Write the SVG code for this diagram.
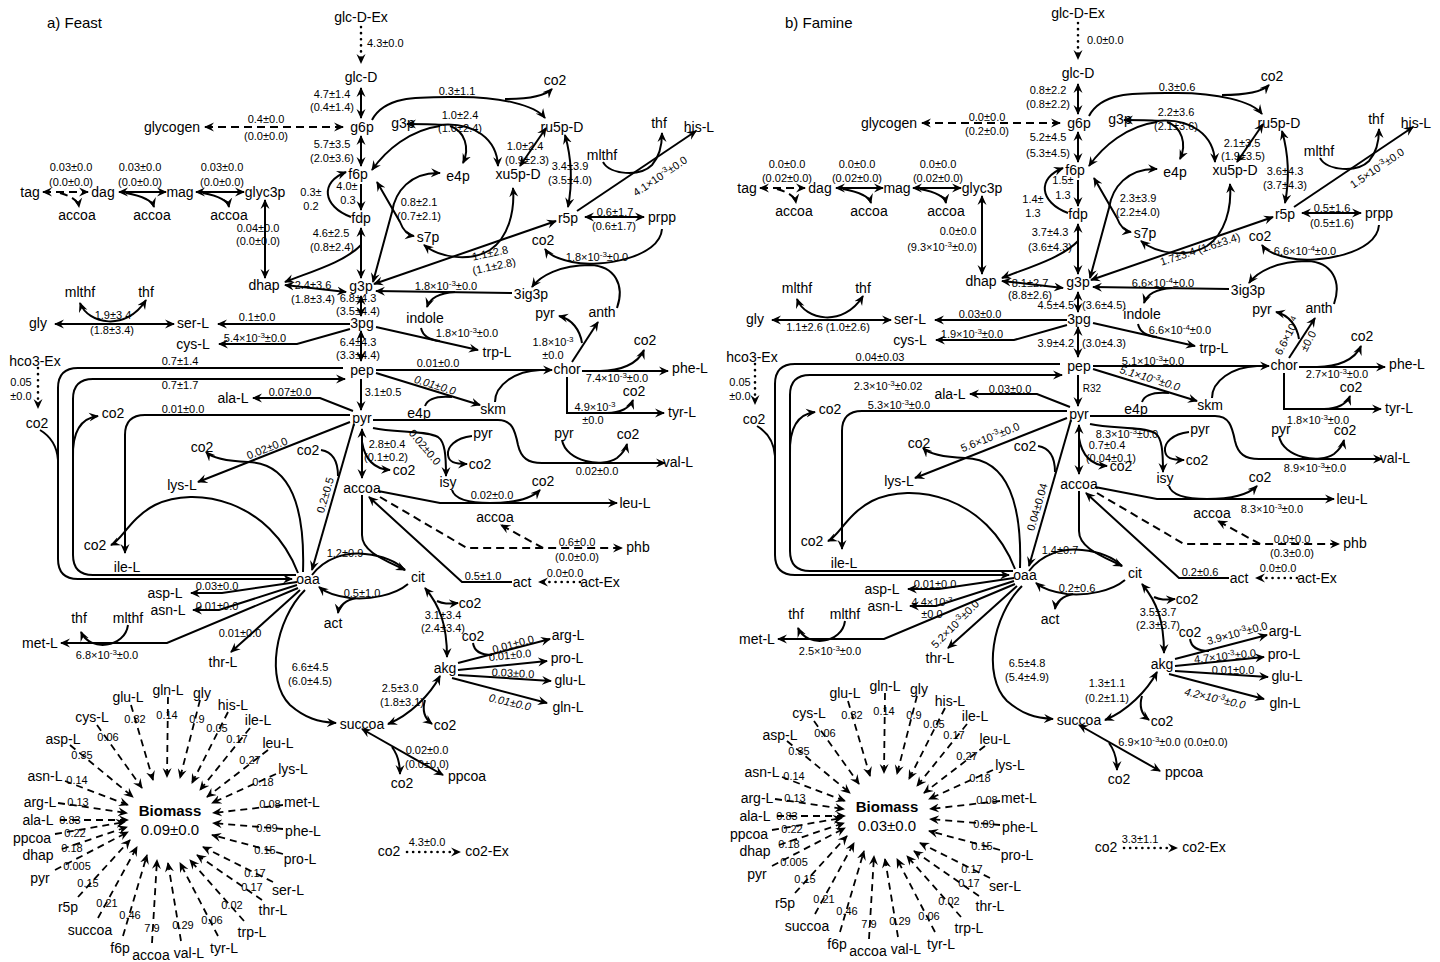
<svg xmlns="http://www.w3.org/2000/svg" width="1440" height="962" viewBox="0 0 1440 962">
<defs>
<style>
text{font-family:"Liberation Sans",Arial,sans-serif;fill:#000}
.n{font-size:14px;text-anchor:middle}
.l{font-size:11px;text-anchor:middle}
.ls{font-size:11px;text-anchor:start}
.le{font-size:11px;text-anchor:end}
.i{font-style:italic}
.sp{font-size:8px}
.e{fill:none;stroke:#000;stroke-width:2}
.d{stroke-dasharray:8 5}
.o{stroke-dasharray:0.1 6;stroke-linecap:round;stroke-width:2.6}
.bm{stroke-dasharray:7 5;stroke-width:1.8}
.a{marker-end:url(#ah)}
.b{marker-start:url(#ah);marker-end:url(#ah)}
</style>
<marker id="ah" viewBox="0 0 10 10" refX="9" refY="5" markerWidth="10" markerHeight="10" markerUnits="userSpaceOnUse" orient="auto-start-reverse"><path d="M0,0.5 L10,5 L0,9.5 L3.5,5 z" fill="#000"/></marker>
</defs>
<rect width="1440" height="962" fill="#fff"/>
<text x="47" y="28" style="font-size:15px">a) Feast</text>
<text x="785" y="28" style="font-size:15px">b) Famine</text>

<g id="graphA">
<g id="connectors-a">
<path class="e d b" d="M205,127 H343"/>
<path class="e o a" d="M361,27 V63"/>
<path class="e b" d="M361,88 V118"/>
<path class="e b" d="M361,136 V166"/>
<path class="e a" d="M361,184 V210"/>
<path class="e a" d="M351,217 C322,206 320,182 346,172"/>
<path class="e b" d="M361,228 V278"/>
<path class="e a" d="M361,245 C345,262 310,272 285,282"/>
<path class="e b" d="M285,285 L346,292"/>
<path class="e b" d="M265,200 V278"/>
<path class="e d b" d="M43,192 H88"/>
<path class="e d a" d="M60,193 C70,196 78,200 79,207"/>
<path class="e b" d="M119,192 H166"/>
<path class="e a" d="M126,193 C142,196 152,200 154,207"/>
<path class="e b" d="M196,192 H244"/>
<path class="e a" d="M203,193 C218,196 228,200 229,207"/>
<path class="e a" d="M372,120 C385,95 420,97 460,97 C500,97 535,105 545,118"/>
<path class="e a" d="M505,99 C527,99 545,96 552,89"/>
<path class="e a" d="M440,126 C410,130 386,150 372,170"/>
<path class="e a" d="M442,125 C430,124 418,124 407,124"/>
<path class="e a" d="M438,125 C475,121 497,140 498,166"/>
<path class="e a" d="M450,126 C465,131 470,148 463,163"/>
<path class="e b" d="M377,182 L400,222 C403,230 407,235 414,236"/>
<path class="e b" d="M440,173 C410,172 395,192 392,212 L373,282"/>
<path class="e b" d="M556,221 L374,284"/>
<path class="e b" d="M424,245 C440,258 470,262 490,250 C508,238 515,212 513,188"/>
<path class="e b" d="M546,128 L520,166"/>
<path class="e b" d="M565,135 Q575,170 568,207"/>
<path class="e b" d="M585,217 H644"/>
<path class="e a" d="M577,211 L696,131"/>
<path class="e a" d="M603,162 C610,175 640,177 652,165 C660,156 662,142 662,133"/>
<path class="e a" d="M662,229 C660,258 600,268 572,262 C558,259 549,255 545,249"/>
<path class="e a" d="M617,308 C625,285 615,266 590,265 C560,265 540,276 532,287"/>
<path class="e a" d="M512,293 L376,291"/>
<path class="e a" d="M455,292 C440,293 430,298 427,307"/>
<path class="e a" d="M376,327 L478,350"/>
<path class="e" d="M421,328 C423,337 430,340 440,341"/>
<path class="e a" d="M572,362 L598,322"/>
<path class="e a" d="M582,343 C580,330 572,319 559,316"/>
<path class="e b" d="M361,296 V316"/>
<path class="e b" d="M361,331 V361"/>
<path class="e a" d="M350,324 H218"/>
<path class="e a" d="M350,329 L297,344 H219"/>
<path class="e b" d="M55,324 H174"/>
<path class="e b" d="M80,303 C88,324 126,332 146,300"/>
<path class="e a" d="M361,379 V410"/>
<path class="e a" d="M376,370 H552"/>
<path class="e a" d="M376,373 L480,405"/>
<path class="e" d="M425,406 C428,398 440,396 452,397"/>
<path class="e" d="M495,402 C495,385 515,371 540,370"/>
<path class="e a" d="M582,371 H668"/>
<path class="e a" d="M600,371 C620,371 638,364 644,350"/>
<path class="e a" d="M567,377 V413 H664"/>
<path class="e a" d="M607,413 C620,413 630,408 633,400"/>
<path class="e a" d="M373,420 H498 C512,420 515,430 518,445 C521,458 528,463 542,463 H665"/>
<path class="e a" d="M562,440 C566,462 603,468 617,458 C623,453 626,448 627,444"/>
<path class="e a" d="M373,428 C395,433 425,430 438,437 C445,442 446,455 446,476"/>
<path class="e a" d="M472,436 C455,438 447,447 448,455 C449,462 454,464 467,464"/>
<path class="e a" d="M378,491 L440,503 H617"/>
<path class="e a" d="M452,490 C455,500 470,503 490,503 C515,503 532,498 540,490"/>
<path class="e b" d="M362,429 V478"/>
<path class="e a" d="M362,442 C365,460 374,469 390,470"/>
<path class="e a" d="M343,368 H78 Q58,368 58,388 V559 Q58,579 78,579 H292"/>
<path class="e" d="M40,430 C50,436 57,446 58,460"/>
<path class="e a" d="M296,575 H93 Q73,575 73,555 V399 Q73,379 93,379 H345"/>
<path class="e a" d="M73,458 C72,430 82,418 98,416"/>
<path class="e o a" d="M38,368 V408"/>
<path class="e a" d="M353,411 L320,398 H253"/>
<path class="e a" d="M350,415 H145 Q125,415 125,435 V553"/>
<path class="e a" d="M298,573 C270,500 195,485 155,505 C130,518 122,540 111,545"/>
<path class="e a" d="M350,422 L198,482"/>
<path class="e a" d="M303,572 C305,510 292,463 248,462 C225,461 212,458 206,452"/>
<path class="e a" d="M354,424 L312,570"/>
<path class="e" d="M321,450 C333,452 338,462 338,476"/>
<path class="e a" d="M362,495 V535 C362,552 385,560 405,570"/>
<path class="e" d="M312,575 C325,558 345,552 365,554 C385,556 398,563 405,570"/>
<path class="e a" d="M408,584 C395,595 370,600 350,598 C335,596 325,592 319,587"/>
<path class="e a" d="M356,598 C346,600 339,606 338,613"/>
<path class="e a" d="M512,582 H462 L369,497"/>
<path class="e o a" d="M580,582 H539"/>
<path class="e d a" d="M380,497 L467,548 H622"/>
<path class="e d a" d="M543,548 L501,525"/>
<path class="e b" d="M425,588 C440,606 447,625 447,657"/>
<path class="e a" d="M437,601 C443,604 448,604 458,603"/>
<path class="e a" d="M458,663 L550,639"/>
<path class="e" d="M473,643 C474,650 480,655 492,655"/>
<path class="e a" d="M458,670 L547,661"/>
<path class="e a" d="M458,675 L551,681"/>
<path class="e a" d="M452,678 L547,703"/>
<path class="e b" d="M440,676 C430,695 410,715 388,724"/>
<path class="e a" d="M425,700 C422,710 424,718 432,724"/>
<path class="e b" d="M362,729 L443,775"/>
<path class="e a" d="M392,747 C398,755 400,763 400,774"/>
<path class="e a" d="M305,590 C275,620 265,680 290,705 C305,718 318,722 336,723"/>
<path class="e a" d="M297,582 L222,593 H191"/>
<path class="e a" d="M297,585 L219,610 H193"/>
<path class="e a" d="M298,588 L167,643 H61"/>
<path class="e a" d="M300,590 L231,652"/>
<path class="e a" d="M128,625 C125,648 90,652 81,632"/>
<path class="e o a" d="M407,852 H460"/>
<g id="biomass-links">
<path class="e bm a" d="M131,705 L153,780"/>
<path class="e bm a" d="M168,697 L167,777"/>
<path class="e bm a" d="M200,700 L180,778"/>
<path class="e bm a" d="M228,712 L192,783"/>
<path class="e bm a" d="M250,728 L200,790"/>
<path class="e bm a" d="M268,750 L207,797"/>
<path class="e bm a" d="M276,774 L212,803"/>
<path class="e bm a" d="M283,805 L213,813"/>
<path class="e bm a" d="M283,829 L213,823"/>
<path class="e bm a" d="M283,854 L212,835"/>
<path class="e bm a" d="M273,882 L203,847"/>
<path class="e bm a" d="M262,900 L197,855"/>
<path class="e bm a" d="M244,921 L190,860"/>
<path class="e bm a" d="M218,936 L180,863"/>
<path class="e bm a" d="M181,941 L168,863"/>
<path class="e bm a" d="M152,943 L157,860"/>
<path class="e bm a" d="M123,936 L147,855"/>
<path class="e bm a" d="M98,918 L137,847"/>
<path class="e bm a" d="M78,897 L130,840"/>
<path class="e bm a" d="M55,870 L128,832"/>
<path class="e bm a" d="M62,849 L127,827"/>
<path class="e bm a" d="M55,834 L125,822"/>
<path class="e bm a" d="M60,820 L128,820"/>
<path class="e bm a" d="M58,803 L127,813"/>
<path class="e bm a" d="M65,781 L128,805"/>
<path class="e bm a" d="M70,745 L133,797"/>
<path class="e bm a" d="M97,725 L142,788"/>
</g>
<g id="biomass-coefs">
<text class="l" x="135" y="723">0.32</text>
<text class="l" x="167" y="719">0.14</text>
<text class="l" x="197" y="723">0.9</text>
<text class="l" x="217" y="732">0.05</text>
<text class="l" x="237" y="743">0.17</text>
<text class="l" x="250" y="764">0.27</text>
<text class="l" x="263" y="786">0.18</text>
<text class="l" x="270" y="808">0.08</text>
<text class="l" x="267" y="832">0.09</text>
<text class="l" x="265" y="854">0.15</text>
<text class="l" x="255" y="877">0.17</text>
<text class="l" x="252" y="891">0.17</text>
<text class="l" x="232" y="909">0.02</text>
<text class="l" x="212" y="924">0.06</text>
<text class="l" x="183" y="929">0.29</text>
<text class="l" x="152" y="932">7.9</text>
<text class="l" x="130" y="919">0.46</text>
<text class="l" x="107" y="907">0.21</text>
<text class="l" x="88" y="887">0.15</text>
<text class="l" x="77" y="870">0.005</text>
<text class="l" x="72" y="852">0.18</text>
<text class="l" x="75" y="837">0.22</text>
<text class="l" x="70" y="824">0.83</text>
<text class="l" x="78" y="806">0.13</text>
<text class="l" x="77" y="784">0.14</text>
<text class="l" x="82" y="759">0.35</text>
<text class="l" x="108" y="741">0.06</text>
</g>
</g>

<g id="nodes-a">
<g id="a-glcDEx"><text class="n" x="361" y="22">glc-D-Ex</text></g>
<g id="a-glcD"><text class="n" x="361" y="82">glc-D</text></g>
<g id="a-g6p"><text class="n" x="362" y="132">g6p</text></g>
<g id="a-glycogen"><text class="n" x="172" y="132">glycogen</text></g>
<g id="a-f6p"><text class="n" x="358" y="179">f6p</text></g>
<g id="a-fdp"><text class="n" x="361" y="223">fdp</text></g>
<g id="a-g3p"><text class="n" x="361" y="291">g3p</text></g>
<g id="a-dhap"><text class="n" x="264" y="290">dhap</text></g>
<g id="a-glyc3p"><text class="n" x="265" y="197">glyc3p</text></g>
<g id="a-mag"><text class="n" x="180" y="197">mag</text></g>
<g id="a-dag"><text class="n" x="103" y="197">dag</text></g>
<g id="a-tag"><text class="n" x="30" y="197">tag</text></g>
<g id="a-accoa1"><text class="n" x="77" y="220">accoa</text></g>
<g id="a-accoa2"><text class="n" x="152" y="220">accoa</text></g>
<g id="a-accoa3"><text class="n" x="229" y="220">accoa</text></g>
<g id="a-g3p2"><text class="n" x="403" y="128">g3p</text></g>
<g id="a-e4p2"><text class="n" x="458" y="181">e4p</text></g>
<g id="a-xu5pD"><text class="n" x="518" y="179">xu5p-D</text></g>
<g id="a-ru5pD"><text class="n" x="562" y="132">ru5p-D</text></g>
<g id="a-co2top"><text class="n" x="555" y="85">co2</text></g>
<g id="a-s7p"><text class="n" x="428" y="242">s7p</text></g>
<g id="a-r5p"><text class="n" x="568" y="223">r5p</text></g>
<g id="a-prpp"><text class="n" x="662" y="222">prpp</text></g>
<g id="a-co2r5p"><text class="n" x="543" y="245">co2</text></g>
<g id="a-thf1"><text class="n" x="659" y="128">thf</text></g>
<g id="a-hisL"><text class="n" x="699" y="132">his-L</text></g>
<g id="a-mlthf1"><text class="n" x="602" y="160">mlthf</text></g>
<g id="a-3ig3p"><text class="n" x="531" y="299">3ig3p</text></g>
<g id="a-indole"><text class="n" x="425" y="323">indole</text></g>
<g id="a-pyr1"><text class="n" x="545" y="318">pyr</text></g>
<g id="a-anth"><text class="n" x="602" y="317">anth</text></g>
<g id="a-3pg"><text class="n" x="362" y="328">3pg</text></g>
<g id="a-gly"><text class="n" x="38" y="328">gly</text></g>
<g id="a-serL"><text class="n" x="193" y="328">ser-L</text></g>
<g id="a-mlthf2"><text class="n" x="80" y="297">mlthf</text></g>
<g id="a-thf2"><text class="n" x="146" y="297">thf</text></g>
<g id="a-cysL"><text class="n" x="193" y="349">cys-L</text></g>
<g id="a-trpL"><text class="n" x="497" y="357">trp-L</text></g>
<g id="a-pep"><text class="n" x="362" y="375">pep</text></g>
<g id="a-chor"><text class="n" x="567" y="374">chor</text></g>
<g id="a-pheL"><text class="n" x="690" y="373">phe-L</text></g>
<g id="a-co2phe"><text class="n" x="645" y="345">co2</text></g>
<g id="a-tyrL"><text class="n" x="682" y="417">tyr-L</text></g>
<g id="a-co2tyr"><text class="n" x="634" y="396">co2</text></g>
<g id="a-hco3Ex"><text class="n" x="35" y="366">hco3-Ex</text></g>
<g id="a-co2left"><text class="n" x="37" y="428">co2</text></g>
<g id="a-co2inner"><text class="n" x="113" y="418">co2</text></g>
<g id="a-alaL"><text class="n" x="233" y="403">ala-L</text></g>
<g id="a-e4p"><text class="n" x="419" y="418">e4p</text></g>
<g id="a-skm"><text class="n" x="493" y="414">skm</text></g>
<g id="a-pyr"><text class="n" x="362" y="423">pyr</text></g>
<g id="a-pyr2"><text class="n" x="564" y="438">pyr</text></g>
<g id="a-co2val"><text class="n" x="628" y="439">co2</text></g>
<g id="a-valL"><text class="n" x="678" y="467">val-L</text></g>
<g id="a-pyr3"><text class="n" x="483" y="438">pyr</text></g>
<g id="a-co2isy"><text class="n" x="480" y="469">co2</text></g>
<g id="a-co2pyr"><text class="n" x="404" y="475">co2</text></g>
<g id="a-isy"><text class="n" x="448" y="487">isy</text></g>
<g id="a-accoa"><text class="n" x="362" y="493">accoa</text></g>
<g id="a-co2leu"><text class="n" x="543" y="486">co2</text></g>
<g id="a-leuL"><text class="n" x="635" y="508">leu-L</text></g>
<g id="a-co2mid"><text class="n" x="202" y="452">co2</text></g>
<g id="a-co2po"><text class="n" x="308" y="455">co2</text></g>
<g id="a-lysL"><text class="n" x="182" y="490">lys-L</text></g>
<g id="a-accoa4"><text class="n" x="495" y="522">accoa</text></g>
<g id="a-phb"><text class="n" x="638" y="552">phb</text></g>
<g id="a-co2ile"><text class="n" x="95" y="550">co2</text></g>
<g id="a-ileL"><text class="n" x="127" y="572">ile-L</text></g>
<g id="a-oaa"><text class="n" x="308" y="584">oaa</text></g>
<g id="a-cit"><text class="n" x="418" y="582">cit</text></g>
<g id="a-act"><text class="n" x="522" y="587">act</text></g>
<g id="a-actEx"><text class="n" x="600" y="587">act-Ex</text></g>
<g id="a-act2"><text class="n" x="333" y="628">act</text></g>
<g id="a-aspL"><text class="n" x="165" y="598">asp-L</text></g>
<g id="a-asnL"><text class="n" x="168" y="615">asn-L</text></g>
<g id="a-thf3"><text class="n" x="79" y="623">thf</text></g>
<g id="a-mlthf3"><text class="n" x="128" y="623">mlthf</text></g>
<g id="a-co2akg"><text class="n" x="470" y="608">co2</text></g>
<g id="a-metL"><text class="n" x="40" y="648">met-L</text></g>
<g id="a-thrL"><text class="n" x="223" y="667">thr-L</text></g>
<g id="a-akg"><text class="n" x="445" y="673">akg</text></g>
<g id="a-co2arg"><text class="n" x="473" y="641">co2</text></g>
<g id="a-argL"><text class="n" x="568" y="640">arg-L</text></g>
<g id="a-proL"><text class="n" x="567" y="663">pro-L</text></g>
<g id="a-gluL"><text class="n" x="570" y="685">glu-L</text></g>
<g id="a-glnL"><text class="n" x="568" y="712">gln-L</text></g>
<g id="a-succoa"><text class="n" x="362" y="729">succoa</text></g>
<g id="a-co2succ"><text class="n" x="445" y="730">co2</text></g>
<g id="a-co2ppcoa"><text class="n" x="402" y="788">co2</text></g>
<g id="a-ppcoa"><text class="n" x="467" y="781">ppcoa</text></g>
<g id="a-co2src"><text class="n" x="389" y="856">co2</text></g>
<g id="a-co2Ex"><text class="n" x="487" y="856">co2-Ex</text></g>
<g id="a-biomass"><text class="n" x="170" y="816" style="font-size:15px;font-weight:bold">Biomass</text></g>
<g id="a-b-gluL"><text class="n" x="128" y="702">glu-L</text></g>
<g id="a-b-glnL"><text class="n" x="168" y="695">gln-L</text></g>
<g id="a-b-gly"><text class="n" x="202" y="698">gly</text></g>
<g id="a-b-hisL"><text class="n" x="233" y="710">his-L</text></g>
<g id="a-b-ileL"><text class="n" x="258" y="725">ile-L</text></g>
<g id="a-b-leuL"><text class="n" x="278" y="748">leu-L</text></g>
<g id="a-b-lysL"><text class="n" x="293" y="774">lys-L</text></g>
<g id="a-b-metL"><text class="n" x="302" y="807">met-L</text></g>
<g id="a-b-pheL"><text class="n" x="303" y="836">phe-L</text></g>
<g id="a-b-proL"><text class="n" x="300" y="864">pro-L</text></g>
<g id="a-b-serL"><text class="n" x="288" y="895">ser-L</text></g>
<g id="a-b-thrL"><text class="n" x="273" y="915">thr-L</text></g>
<g id="a-b-trpL"><text class="n" x="252" y="937">trp-L</text></g>
<g id="a-b-tyrL"><text class="n" x="224" y="953">tyr-L</text></g>
<g id="a-b-valL"><text class="n" x="189" y="958">val-L</text></g>
<g id="a-b-accoa"><text class="n" x="151" y="960">accoa</text></g>
<g id="a-b-f6p"><text class="n" x="120" y="953">f6p</text></g>
<g id="a-b-succoa"><text class="n" x="90" y="935">succoa</text></g>
<g id="a-b-r5p"><text class="n" x="68" y="912">r5p</text></g>
<g id="a-b-pyr"><text class="n" x="40" y="883">pyr</text></g>
<g id="a-b-dhap"><text class="n" x="38" y="860">dhap</text></g>
<g id="a-b-ppcoa"><text class="n" x="32" y="843">ppcoa</text></g>
<g id="a-b-alaL"><text class="n" x="38" y="825">ala-L</text></g>
<g id="a-b-argL"><text class="n" x="40" y="807">arg-L</text></g>
<g id="a-b-asnL"><text class="n" x="45" y="781">asn-L</text></g>
<g id="a-b-aspL"><text class="n" x="63" y="744">asp-L</text></g>
<g id="a-b-cysL"><text class="n" x="92" y="722">cys-L</text></g>
</g>
</g>

<use href="#graphA" transform="translate(717,-4)"/>

<g id="labels-a">
<text class="ls" x="367" y="47">4.3±0.0</text>
<text class="l" x="332" y="98">4.7±1.4</text><text class="l" x="332" y="111">(0.4±1.4)</text>
<text class="l" x="266" y="123">0.4±0.0</text><text class="l" x="266" y="140">(0.0±0.0)</text>
<text class="l" x="332" y="148">5.7±3.5</text><text class="l" x="332" y="162">(2.0±3.6)</text>
<text class="l" x="71" y="171">0.03±0.0</text><text class="l" x="71" y="186">(0.0±0.0)</text>
<text class="l" x="140" y="171">0.03±0.0</text><text class="l" x="140" y="186">(0.0±0.0)</text>
<text class="l" x="222" y="171">0.03±0.0</text><text class="l" x="222" y="186">(0.0±0.0)</text>
<text class="l" x="311" y="196">0.3±</text><text class="l" x="311" y="210">0.2</text>
<text class="l" x="347" y="190">4.0±</text><text class="l" x="348" y="204">0.3</text>
<text class="l" x="331" y="237">4.6±2.5</text><text class="l" x="332" y="251">(0.8±2.4)</text>
<text class="l" x="258" y="232">0.04±0.0</text><text class="l" x="258" y="245">(0.0±0.0)</text>
<text class="l" x="313" y="289">2.4±3.6</text><text class="l" x="313" y="303">(1.8±3.4)</text>
<text class="l" x="113" y="319">1.9±3.4</text><text class="l" x="112" y="334">(1.8±3.4)</text>
<text class="l" x="257" y="321">0.1±0.0</text>
<text class="l" x="255" y="342">5.4×10<tspan class="sp" dy="-4">-3</tspan><tspan dy="4">±0.0</tspan></text>
<text class="l" x="358" y="302">6.8±4.3</text><text class="l" x="358" y="315">(3.5±4.4)</text>
<text class="l" x="358" y="346">6.4±4.3</text><text class="l" x="358" y="359">(3.3±4.4)</text>
<text class="l" x="21" y="386">0.05</text><text class="l" x="21" y="400">±0.0</text>
<text class="l" x="180" y="365">0.7±1.4</text>
<text class="l" x="180" y="389">0.7±1.7</text>
<text class="l" x="290" y="396">0.07±0.0</text>
<text class="l" x="183" y="413">0.01±0.0</text>
<text class="l" x="438" y="367">0.01±0.0</text>
<text class="l i" transform="translate(435,385) rotate(17)" y="4">0.01±0.0</text>
<text class="l" x="383" y="396">3.1±0.5</text>
<text class="l" x="467" y="337">1.8×10<tspan class="sp" dy="-4">-3</tspan><tspan dy="4">±0.0</tspan></text>
<text class="l" x="446" y="290">1.8×10<tspan class="sp" dy="-4">-3</tspan><tspan dy="4">±0.0</tspan></text>
<text class="l" x="553" y="346">1.8×10<tspan class="sp" dy="-4">-3</tspan></text><text class="l" x="553" y="359">±0.0</text>
<text class="l" x="597" y="261">1.8×10<tspan class="sp" dy="-4">-3</tspan><tspan dy="4">±0.0</tspan></text>
<text class="l" transform="translate(490,253) rotate(-12)" y="4">1.1±2.8</text>
<text class="l" transform="translate(494,266) rotate(-12)" y="4">(1.1±2.8)</text>
<text class="l" transform="translate(660,176) rotate(-34)" y="4">4.1×10<tspan class="sp" dy="-4">-3</tspan><tspan dy="4">±0.0</tspan></text>
<text class="l" x="615" y="216">0.6±1.7</text><text class="l" x="614" y="230">(0.6±1.7)</text>
<text class="l" x="419" y="206">0.8±2.1</text><text class="l" x="419" y="220">(0.7±2.1)</text>
<text class="l" x="570" y="170">3.4±3.9</text><text class="l" x="570" y="184">(3.5±4.0)</text>
<text class="l" x="525" y="150">1.0±2.4</text><text class="l" x="527" y="164">(0.9±2.3)</text>
<text class="l" x="460" y="119">1.0±2.4</text><text class="l" x="460" y="132">(1.0±2.4)</text>
<text class="l" x="457" y="95">0.3±1.1</text>
<text class="l" x="617" y="382">7.4×10<tspan class="sp" dy="-4">-3</tspan><tspan dy="4">±0.0</tspan></text>
<text class="l" x="595" y="411">4.9×10<tspan class="sp" dy="-4">-3</tspan></text><text class="l" x="593" y="424">±0.0</text>
<text class="l" x="597" y="475">0.02±0.0</text>
<text class="l" transform="translate(425,447) rotate(50)" y="4">0.02±0.0</text>
<text class="l" x="387" y="448">2.8±0.4</text><text class="l" x="386" y="461">(0.1±0.2)</text>
<text class="l" x="492" y="499">0.02±0.0</text>
<text class="l" x="577" y="546">0.6±0.0</text><text class="l" x="577" y="561">(0.0±0.0)</text>
<text class="l" x="483" y="580">0.5±1.0</text>
<text class="l" x="565" y="577">0.0±0.0</text>
<text class="l" x="345" y="557">1.2±0.9</text>
<text class="l" x="362" y="597">0.5±1.0</text>
<text class="l" x="443" y="619">3.1±3.4</text><text class="l" x="443" y="632">(2.4±3.4)</text>
<text class="l" transform="translate(267,448) rotate(-21.5)" y="4">0.02±0.0</text>
<text class="l" transform="translate(325,495) rotate(-74)" y="4">0.2±0.5</text>
<text class="l" x="217" y="590">0.03±0.0</text>
<text class="l" x="217" y="610">0.01±0.0</text>
<text class="l" x="240" y="637">0.01±0.0</text>
<text class="l" x="107" y="659">6.8×10<tspan class="sp" dy="-4">-3</tspan><tspan dy="4">±0.0</tspan></text>
<text class="l" x="310" y="671">6.6±4.5</text><text class="l" x="310" y="685">(6.0±4.5)</text>
<text class="l" transform="translate(513,644) rotate(-15)" y="4">0.01±0.0</text>
<text class="l" transform="translate(510,655) rotate(-6)" y="4">0.01±0.0</text>
<text class="l" transform="translate(513,673) rotate(3)" y="4">0.03±0.0</text>
<text class="l i" transform="translate(510,702) rotate(13)" y="4">0.01±0.0</text>
<text class="l" x="400" y="692">2.5±3.0</text><text class="l" x="402" y="706">(1.8±3.1)</text>
<text class="l" x="427" y="754">0.02±0.0</text><text class="l" x="427" y="768">(0.0±0.0)</text>
<text class="l" x="427" y="846">4.3±0.0</text>
<text class="n" x="170" y="835" style="font-size:15px">0.09±0.0</text>
</g>

<g id="labels-b" transform="translate(717,-4)">
<text class="ls" x="370" y="48">0.0±0.0</text>
<text class="l" x="331" y="98">0.8±2.2</text><text class="l" x="331" y="112">(0.8±2.2)</text>
<text class="l" x="270" y="125">0.0±0.0</text><text class="l" x="270" y="139">(0.2±0.0)</text>
<text class="l" x="331" y="145">5.2±4.5</text><text class="l" x="331" y="161">(5.3±4.5)</text>
<text class="l" x="70" y="172">0.0±0.0</text><text class="l" x="70" y="186">(0.02±0.0)</text>
<text class="l" x="140" y="172">0.0±0.0</text><text class="l" x="140" y="186">(0.02±0.0)</text>
<text class="l" x="221" y="172">0.0±0.0</text><text class="l" x="221" y="186">(0.02±0.0)</text>
<text class="l" x="346" y="188">1.5±</text><text class="l" x="346" y="203">1.3</text>
<text class="l" x="316" y="207">1.4±</text><text class="l" x="316" y="221">1.3</text>
<text class="l" x="333" y="240">3.7±4.3</text><text class="l" x="333" y="255">(3.6±4.3)</text>
<text class="l" x="241" y="239">0.0±0.0</text>
<text class="l" x="225" y="255">(9.3×10<tspan class="sp" dy="-4">-3</tspan><tspan dy="4">±0.0)</tspan></text>
<text class="l" x="313" y="291">8.1±2.7</text><text class="l" x="313" y="303">(8.8±2.6)</text>
<text class="le" x="357" y="313">4.5±4.5</text><text class="ls" x="365" y="313">(3.6±4.5)</text>
<text class="l" x="263" y="322">0.03±0.0</text>
<text class="l" x="111" y="335">1.1±2.6 (1.0±2.6)</text>
<text class="l" x="255" y="342">1.9×10<tspan class="sp" dy="-4">-3</tspan><tspan dy="4">±0.0</tspan></text>
<text class="le" x="357" y="351">3.9±4.2</text><text class="ls" x="365" y="351">(3.0±4.3)</text>
<text class="l" x="23" y="390">0.05</text><text class="l" x="23" y="404">±0.0</text>
<text class="l" x="163" y="365">0.04±0.03</text>
<text class="l" x="171" y="394">2.3×10<tspan class="sp" dy="-4">-3</tspan><tspan dy="4">±0.02</tspan></text>
<text class="l" x="293" y="397">0.03±0.0</text>
<text class="l" x="182" y="413">5.3×10<tspan class="sp" dy="-4">-3</tspan><tspan dy="4">±0.0</tspan></text>
<text class="l" transform="translate(273,441) rotate(-21.5)" y="4">5.6×10<tspan class="sp" dy="-4">-3</tspan><tspan dy="4">±0.0</tspan></text>
<text class="l" transform="translate(320,511) rotate(-74)" y="4">0.04±0.04</text>
<text class="l" x="343" y="558">1.4±0.7</text>
<text class="l" x="218" y="592">0.01±0.0</text>
<text class="l" x="215" y="610">4.4×10<tspan class="sp" dy="-4">-3</tspan></text><text class="l" x="215" y="622">±0.0</text>
<text class="l" transform="translate(238,628) rotate(-45)" y="4">5.2×10<tspan class="sp" dy="-4">-3</tspan><tspan dy="4">±0.0</tspan></text>
<text class="l" x="360" y="596">0.2±0.6</text>
<text class="l" x="113" y="659">2.5×10<tspan class="sp" dy="-4">-3</tspan><tspan dy="4">±0.0</tspan></text>
<text class="l" x="310" y="671">6.5±4.8</text><text class="l" x="310" y="685">(5.4±4.9)</text>
<text class="l" x="463" y="338">6.6×10<tspan class="sp" dy="-4">-4</tspan><tspan dy="4">±0.0</tspan></text>
<text class="l" x="436" y="369">5.1×10<tspan class="sp" dy="-4">-3</tspan><tspan dy="4">±0.0</tspan></text>
<text class="l i" transform="translate(433,382) rotate(17)" y="4">5.1×10<tspan class="sp" dy="-4">-3</tspan><tspan dy="4">±0.0</tspan></text>
<text x="375" y="396" style="font-size:10px;text-anchor:middle">R32</text>
<text class="l" x="410" y="442">8.3×10<tspan class="sp" dy="-4">-3</tspan><tspan dy="4">±0.0</tspan></text>
<text class="l" x="390" y="453">0.7±0.4</text><text class="l" x="394" y="466">(0.04±0.1)</text>
<text class="l" x="620" y="382">2.7×10<tspan class="sp" dy="-4">-3</tspan><tspan dy="4">±0.0</tspan></text>
<text class="l" x="601" y="428">1.8×10<tspan class="sp" dy="-4">-3</tspan><tspan dy="4">±0.0</tspan></text>
<text class="l" x="598" y="476">8.9×10<tspan class="sp" dy="-4">-3</tspan><tspan dy="4">±0.0</tspan></text>
<text class="l" x="555" y="517">8.3×10<tspan class="sp" dy="-4">-3</tspan><tspan dy="4">±0.0</tspan></text>
<text class="l" x="575" y="547">0.0±0.0</text><text class="l" x="575" y="561">(0.3±0.0)</text>
<text class="l" x="483" y="580">0.2±0.6</text>
<text class="l" x="561" y="576">0.0±0.0</text>
<text class="l" x="441" y="620">3.5±3.7</text><text class="l" x="441" y="633">(2.3±3.7)</text>
<text class="l" transform="translate(570,340) rotate(-62)" y="4">6.6×10<tspan class="sp" dy="-4">-4</tspan></text>
<text class="l" transform="translate(591,345) rotate(-62)" y="4">±0.0</text>
<text class="l" transform="translate(660,172) rotate(-34)" y="4">1.5×10<tspan class="sp" dy="-4">-3</tspan><tspan dy="4">±0.0</tspan></text>
<text class="l" x="568" y="179">3.6±4.3</text><text class="l" x="568" y="193">(3.7±4.3)</text>
<text class="l" x="525" y="151">2.1±3.5</text><text class="l" x="526" y="164">(1.9±3.5)</text>
<text class="l" x="459" y="120">2.2±3.6</text><text class="l" x="459" y="134">(2.1±3.6)</text>
<text class="l" x="460" y="95">0.3±0.6</text>
<text class="l" x="421" y="206">2.3±3.9</text><text class="l" x="421" y="220">(2.2±4.0)</text>
<text class="l" x="615" y="216">0.5±1.6</text><text class="l" x="615" y="231">(0.5±1.6)</text>
<text class="l" transform="translate(483,253) rotate(-18)" y="4">1.7±3.4 (1.6±3.4)</text>
<text class="l" x="588" y="259">6.6×10<tspan class="sp" dy="-4">-4</tspan><tspan dy="4">±0.0</tspan></text>
<text class="l" x="446" y="291">6.6×10<tspan class="sp" dy="-4">-4</tspan><tspan dy="4">±0.0</tspan></text>
<text class="l" transform="translate(520,637) rotate(-15)" y="4">3.9×10<tspan class="sp" dy="-4">-3</tspan><tspan dy="4">±0.0</tspan></text>
<text class="l" transform="translate(508,660) rotate(-6)" y="4">4.7×10<tspan class="sp" dy="-4">-3</tspan><tspan dy="4">±0.0</tspan></text>
<text class="l" x="516" y="678">0.01±0.0</text>
<text class="l i" transform="translate(498,702) rotate(13)" y="4">4.2×10<tspan class="sp" dy="-4">-3</tspan><tspan dy="4">±0.0</tspan></text>
<text class="l" x="390" y="691">1.3±1.1</text><text class="l" x="390" y="706">(0.2±1.1)</text>
<text class="l" x="456" y="750">6.9×10<tspan class="sp" dy="-4">-3</tspan><tspan dy="4">±0.0 (0.0±0.0)</tspan></text>
<text class="l" x="423" y="847">3.3±1.1</text>
<text class="n" x="170" y="835" style="font-size:15px">0.03±0.0</text>
</g>
</svg>
